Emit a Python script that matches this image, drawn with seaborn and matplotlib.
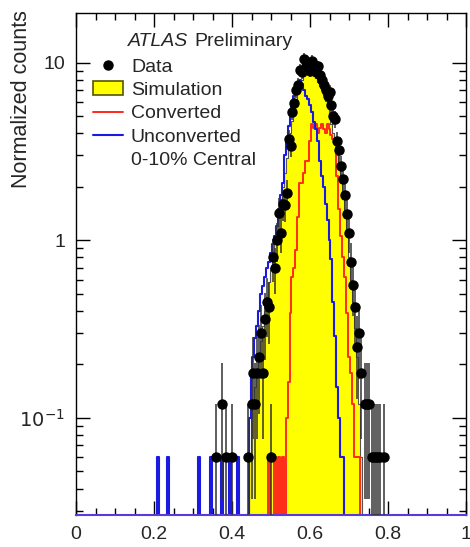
import numpy as np
import pandas as pd
import matplotlib
matplotlib.use("Agg")
import matplotlib.pyplot as plt
import seaborn as sns
from matplotlib.lines import Line2D
from matplotlib.patches import Patch
from matplotlib.ticker import MultipleLocator, LogLocator, NullFormatter

# Data points (bin centres, normalized counts)
data_x = [0.360, 0.375, 0.385, 0.400, 0.440, 0.450, 0.455, 0.460, 0.465, 0.470,
          0.475, 0.480, 0.485, 0.490, 0.495, 0.500, 0.505, 0.510, 0.515, 0.520,
          0.525, 0.530, 0.535, 0.540, 0.545, 0.550, 0.555, 0.560, 0.565, 0.570,
          0.575, 0.580, 0.585, 0.590, 0.595, 0.600, 0.605, 0.610, 0.615, 0.620,
          0.625, 0.630, 0.635, 0.640, 0.645, 0.650, 0.655, 0.660, 0.665, 0.670,
          0.675, 0.680, 0.685, 0.690, 0.695, 0.700, 0.705, 0.710, 0.715, 0.720,
          0.725, 0.730, 0.740, 0.745, 0.750, 0.760, 0.765, 0.770, 0.775, 0.780,
          0.790]
data_y = [0.06, 0.12, 0.06, 0.06, 0.06, 0.12, 0.18, 0.12, 0.18, 0.22,
          0.30, 0.18, 0.36, 0.45, 0.42, 0.06, 0.80, 0.70, 1.00, 1.43,
          1.10, 1.60, 1.58, 1.85, 3.70, 3.40, 5.30, 5.90, 7.00, 7.50,
          9.10, 8.80, 10.5, 9.50, 10.0, 9.00, 10.2, 9.30, 8.80, 9.50,
          8.50, 8.00, 7.50, 7.00, 6.50, 6.80, 5.80, 5.00, 4.80, 3.60,
          3.20, 2.60, 2.20, 1.80, 1.40, 1.10, 0.75, 0.56, 0.42, 0.25,
          0.30, 0.18, 0.12, 0.12, 0.12, 0.06, 0.06, 0.06, 0.06, 0.06,
          0.06]

# Simulation (yellow)
sim_x = [0.445, 0.450, 0.455, 0.460, 0.465, 0.470, 0.475, 0.480, 0.485, 0.490,
         0.495, 0.500, 0.505, 0.510, 0.515, 0.520, 0.525, 0.530, 0.535, 0.540,
         0.545, 0.550, 0.555, 0.560, 0.565, 0.570, 0.575, 0.580, 0.585, 0.590,
         0.595, 0.600, 0.605, 0.610, 0.615, 0.620, 0.625, 0.630, 0.635, 0.640,
         0.645, 0.650, 0.655, 0.660, 0.665, 0.670, 0.675, 0.680, 0.685, 0.690,
         0.695, 0.700, 0.705, 0.710, 0.715, 0.720, 0.725, 0.730]
sim_y = [0.06, 0.10, 0.12, 0.15, 0.18, 0.22, 0.27, 0.33, 0.40, 0.48,
         0.58, 0.70, 0.85, 1.00, 1.20, 1.40, 1.70, 2.00, 2.40, 2.90,
         3.40, 4.00, 4.70, 5.40, 6.10, 6.80, 7.40, 8.00, 8.50, 8.80,
         9.00, 9.00, 8.80, 8.50, 8.20, 7.80, 7.40, 7.00, 6.60, 6.10,
         5.60, 5.10, 4.50, 4.00, 3.50, 3.00, 2.50, 2.10, 1.70, 1.35,
         1.05, 0.80, 0.60, 0.45, 0.32, 0.22, 0.12, 0.06]

# Converted (red)
conv_x = [0.495, 0.510, 0.520, 0.530, 0.540, 0.545, 0.550, 0.555, 0.560, 0.565,
          0.570, 0.575, 0.580, 0.585, 0.590, 0.595, 0.600, 0.605, 0.610, 0.615,
          0.620, 0.625, 0.630, 0.635, 0.640, 0.645, 0.650, 0.655, 0.660, 0.665,
          0.670, 0.675, 0.680, 0.685, 0.690, 0.695, 0.700, 0.705, 0.710, 0.715,
          0.720, 0.725]
conv_y = [0.06, 0.06, 0.06, 0.06, 0.10, 0.16, 0.39, 0.62, 0.70, 0.88,
          1.35, 2.10, 2.10, 2.40, 2.80, 2.80, 3.60, 4.50, 4.30, 4.50,
          4.00, 4.30, 4.50, 4.20, 4.00, 4.50, 4.20, 3.90, 3.70, 3.70,
          2.30, 1.50, 1.05, 0.80, 0.62, 0.39, 0.22, 0.18, 0.12, 0.06,
          0.06, 0.06]

# Unconverted (blue)
unconv_x = [0.210, 0.235, 0.315, 0.345, 0.375, 0.395, 0.415, 0.445, 0.450, 0.455,
            0.460, 0.465, 0.470, 0.475, 0.480, 0.485, 0.490, 0.495, 0.500, 0.505,
            0.510, 0.515, 0.520, 0.525, 0.530, 0.535, 0.540, 0.545, 0.550, 0.555,
            0.560, 0.565, 0.570, 0.575, 0.580, 0.585, 0.590, 0.595, 0.600, 0.605,
            0.610, 0.615, 0.620, 0.625, 0.630, 0.635, 0.640, 0.645, 0.650, 0.655,
            0.660, 0.665, 0.670, 0.675, 0.680, 0.685]
unconv_y = [0.06, 0.06, 0.06, 0.06, 0.06, 0.06, 0.06, 0.10, 0.18, 0.22,
            0.28, 0.33, 0.40, 0.50, 0.55, 0.62, 0.70, 0.75, 0.85, 0.95,
            1.05, 1.20, 1.50, 1.80, 2.10, 3.00, 3.60, 4.40, 5.30, 5.80,
            6.50, 7.20, 7.80, 8.00, 7.60, 7.00, 6.50, 6.20, 5.80, 5.30,
            4.60, 4.20, 3.60, 2.80, 2.30, 2.00, 1.60, 1.30, 1.00, 0.78,
            0.45, 0.29, 0.15, 0.10, 0.06, 0.06]

# one entry corresponds to 0.06 -> Poisson errors
unit = 0.06

sns.set_style("ticks")
plt.rcParams["font.family"] = ["Liberation Sans", "DejaVu Sans"]

fig = plt.figure(figsize=(4.7, 5.47), dpi=100)
ax = fig.add_axes([76 / 470, 32 / 547, 390 / 470, 502 / 547])

hist_kw = dict(binwidth=0.005, binrange=(-0.0025, 1.0025), element="step", ax=ax)
sim = pd.DataFrame({"x": sim_x, "w": sim_y})
sns.histplot(data=sim, x="x", weights="w", fill=True, color="#ffff00", alpha=1,
             edgecolor="#555555", linewidth=0.8, **hist_kw)
conv = pd.DataFrame({"x": conv_x, "w": conv_y})
sns.histplot(data=conv, x="x", weights="w", fill=False, color="#ff2a1a",
             linewidth=1.4, **hist_kw)
unconv = pd.DataFrame({"x": unconv_x, "w": unconv_y})
sns.histplot(data=unconv, x="x", weights="w", fill=False, color="#1a1ae0",
             linewidth=1.5, **hist_kw)

dy = np.array(data_y)
err = np.sqrt(dy * unit)
ax.errorbar(data_x, dy, yerr=[np.minimum(err, dy * 0.999), err], fmt="o",
            color="black", ecolor="#333333", ms=6.5, elinewidth=1.1, capsize=0,
            zorder=5)

ax.set_yscale("log")
ax.set_xlim(0, 1)
ax.set_ylim(0.0284, 19)
ax.set_xlabel("")
ax.set_ylabel("")
fig.text(22 / 470, 1 - 10 / 547, "Normalized counts", rotation=90, fontsize=15.5,
         ha="center", va="top")

ax.set_xticks([0, 0.2, 0.4, 0.6, 0.8, 1])
ax.set_xticklabels(["0", "0.2", "0.4", "0.6", "0.8", "1"])
ax.xaxis.set_minor_locator(MultipleLocator(0.05))
ax.set_yticks([0.1, 1, 10])
ax.set_yticklabels(["$10^{-1}$", "1", "10"])
ax.yaxis.set_minor_locator(LogLocator(base=10, subs=np.arange(2, 10)))
ax.yaxis.set_minor_formatter(NullFormatter())
ax.tick_params(which="both", direction="in", top=True, right=True,
               labelsize=14, color="black", pad=8)
ax.tick_params(which="major", length=10, width=1)
ax.tick_params(which="minor", length=5, width=1)
for s in ["left", "top", "right"]:
    ax.spines[s].set_color("black")
    ax.spines[s].set_linewidth(1)
ax.spines["bottom"].set_color("#5a3ad8")
ax.spines["bottom"].set_linewidth(1.5)

handles = [
    Line2D([], [], marker="o", color="black", ls="none", ms=6.5),
    Patch(facecolor="#ffff00", edgecolor="#555500", linewidth=1.2),
    Line2D([], [], color="#ff2a1a", lw=1.4),
    Line2D([], [], color="#1a1ae0", lw=1.5),
    Line2D([], [], ls="none"),
]
labels = ["Data", "Simulation", "Converted", "Unconverted", "0-10% Central"]
ax.legend(handles, labels, loc="upper left", bbox_to_anchor=(93 / 470, 1 - 58 / 547),
          bbox_transform=fig.transFigure, frameon=False, fontsize=14,
          borderpad=0, borderaxespad=0, labelspacing=0.3, handlelength=1.55,
          handletextpad=0.4)

fig.text(128 / 470, 1 - 42 / 547, "ATLAS", style="italic", fontsize=14, va="center")
fig.text(194 / 470, 1 - 42 / 547, "Preliminary", fontsize=14, va="center")

fig.savefig("out.png", dpi=100, facecolor="white")
